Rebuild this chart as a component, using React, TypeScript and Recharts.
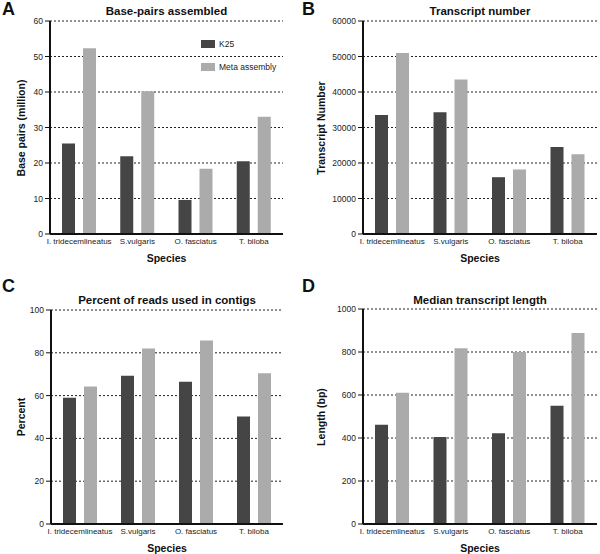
import React from "react";
import { BarChart, Bar, XAxis, YAxis, CartesianGrid } from "recharts";

// ── data ───────────────────────────────────────────────
const species = ["I. tridecemlineatus", "S.vulgaris", "O. fasciatus", "T. biloba"];

const basePairsK25 = [25.5, 21.9, 9.6, 20.5];
const basePairsMeta = [52.3, 40.2, 18.4, 33.0];

const transcriptsK25 = [33500, 34300, 16000, 24500];
const transcriptsMeta = [51000, 43500, 18200, 22500];

const percentK25 = [59.0, 69.3, 66.5, 50.2];
const percentMeta = [64.2, 82.0, 85.7, 70.5];

const lengthK25 = [462, 405, 422, 550];
const lengthMeta = [610, 818, 800, 888];

const ticksA = [0, 10, 20, 30, 40, 50, 60];
const ticksB = [0, 10000, 20000, 30000, 40000, 50000, 60000];
const ticksC = [0, 20, 40, 60, 80, 100];
const ticksD = [0, 200, 400, 600, 800, 1000];

const DARK = "#454545";
const LIGHT = "#ababab";
const FONT = "'Liberation Sans', Arial, Helvetica, sans-serif";

const rows = (k25: number[], meta: number[]) =>
  species.map((s, i) => ({ species: s, k25: k25[i], meta: meta[i] }));

interface PanelProps {
  letter: string;
  title: string;
  yLabel: string;
  k25: number[];
  meta: number[];
  ticks: number[];
  left: number;
  top: number;
  margin: { top: number; right: number; bottom: number; left: number };
  yWidth: number;
  titleY: number;
  yLabelX: number;
  legend?: boolean;
}

function Panel(p: PanelProps) {
  const data = rows(p.k25, p.meta);
  const plotTop = p.margin.top;
  const plotBottom = 277 - p.margin.bottom - 30;
  const plotLeft = p.margin.left + p.yWidth;
  const plotRight = 300 - p.margin.right;
  const cx = (plotLeft + plotRight) / 2;
  return (
    <div style={{ position: "absolute", left: p.left, top: p.top, width: 300, height: 277 }}>
      <div
        style={{
          position: "absolute",
          left: 2,
          top: 0,
          fontFamily: FONT,
          fontWeight: 700,
          fontSize: 18,
          lineHeight: "18px",
          color: "#111",
        }}
      >
        {p.letter}
      </div>
      <div
        style={{
          position: "absolute",
          left: cx - 150,
          width: 300,
          top: p.titleY - 7,
          textAlign: "center",
          fontFamily: FONT,
          fontWeight: 700,
          fontSize: 11.5,
          lineHeight: "14px",
          color: "#111",
        }}
      >
        {p.title}
      </div>
      <div
        style={{
          position: "absolute",
          left: p.yLabelX - 100,
          top: (plotTop + plotBottom) / 2 - 7,
          width: 200,
          textAlign: "center",
          transform: "rotate(-90deg)",
          fontFamily: FONT,
          fontWeight: 700,
          fontSize: 10.5,
          lineHeight: "14px",
          color: "#111",
        }}
      >
        {p.yLabel}
      </div>
      <div
        style={{
          position: "absolute",
          left: cx - 50,
          width: 100,
          top: plotBottom + 17,
          textAlign: "center",
          fontFamily: FONT,
          fontWeight: 700,
          fontSize: 10.5,
          lineHeight: "14px",
          color: "#111",
        }}
      >
        Species
      </div>
      {p.legend && (
        <div style={{ position: "absolute", left: 201, top: 40, fontFamily: FONT, fontSize: 8.5, color: "#222" }}>
          <div style={{ display: "flex", alignItems: "center", height: 8 }}>
            <span style={{ width: 14, height: 8, background: DARK, display: "inline-block", marginRight: 4 }} />
            K25
          </div>
          <div style={{ display: "flex", alignItems: "center", height: 8, marginTop: 15 }}>
            <span style={{ width: 14, height: 8, background: LIGHT, display: "inline-block", marginRight: 4 }} />
            Meta assembly
          </div>
        </div>
      )}
      <div style={{ position: "absolute", left: 0, top: 0 }}>
        <BarChart width={300} height={277} data={data} margin={p.margin} barSize={13} barGap={8}>
          <CartesianGrid horizontal vertical={false} stroke="#222" strokeDasharray="2 2" />
          <XAxis
            dataKey="species"
            height={30}
            interval={0}
            tickLine={false}
            tickSize={0}
            tickMargin={4}
            axisLine={{ stroke: "#111", strokeWidth: 2 }}
            tick={{ fontSize: 8, fontFamily: FONT, fill: "#222" }}
          />
          <YAxis
            width={p.yWidth}
            domain={[0, p.ticks[p.ticks.length - 1]]}
            ticks={p.ticks}
            interval={0}
            tickSize={5}
            tickMargin={2}
            tickLine={{ stroke: "#111" }}
            axisLine={{ stroke: "#111", strokeWidth: 2 }}
            tick={{ fontSize: 8.5, fontFamily: FONT, fill: "#222" }}
          />
          <Bar dataKey="k25" fill={DARK} isAnimationActive={false} />
          <Bar dataKey="meta" fill={LIGHT} isAnimationActive={false} />
        </BarChart>
      </div>
    </div>
  );
}

export default function App() {
  return (
    <div style={{ position: "absolute", left: 0, top: 0, width: 600, height: 554, background: "#fff", overflow: "hidden" }}>
      <Panel
        letter="A"
        title="Base-pairs assembled"
        yLabel="Base pairs (million)"
        k25={basePairsK25}
        meta={basePairsMeta}
        ticks={ticksA}
        left={0}
        top={0}
        margin={{ top: 21, right: 17, bottom: 13, left: 10 }}
        yWidth={40}
        titleY={11}
        yLabelX={21}
        legend
      />
      <Panel
        letter="B"
        title="Transcript number"
        yLabel="Transcript Number"
        k25={transcriptsK25}
        meta={transcriptsMeta}
        ticks={ticksB}
        left={300}
        top={0}
        margin={{ top: 21, right: 3, bottom: 13, left: 13 }}
        yWidth={50}
        titleY={11}
        yLabelX={21}
      />
      <Panel
        letter="C"
        title="Percent of reads used in contigs"
        yLabel="Percent"
        k25={percentK25}
        meta={percentMeta}
        ticks={ticksC}
        left={0}
        top={277}
        margin={{ top: 33, right: 17, bottom: 0, left: 11 }}
        yWidth={40}
        titleY={23}
        yLabelX={21}
      />
      <Panel
        letter="D"
        title="Median transcript length"
        yLabel="Length (bp)"
        k25={lengthK25}
        meta={lengthMeta}
        ticks={ticksD}
        left={300}
        top={277}
        margin={{ top: 32, right: 3, bottom: 0, left: 13 }}
        yWidth={50}
        titleY={23}
        yLabelX={21}
      />
    </div>
  );
}
